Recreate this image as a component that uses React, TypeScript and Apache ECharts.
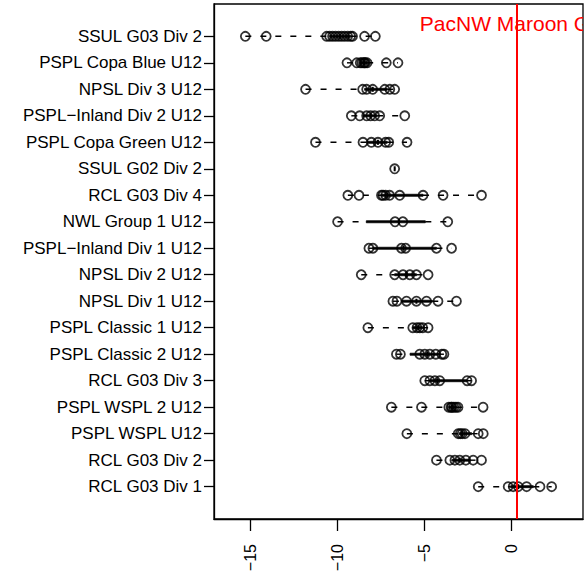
import React, { useEffect, useRef } from "react";
import * as echarts from "echarts";

// Categories, top to bottom
const categories = [
  "SSUL G03 Div 2",
  "PSPL Copa Blue U12",
  "NPSL Div 3 U12",
  "PSPL−Inland Div 2 U12",
  "PSPL Copa Green U12",
  "SSUL G02 Div 2",
  "RCL G03 Div 4",
  "NWL Group 1 U12",
  "PSPL−Inland Div 1 U12",
  "NPSL Div 2 U12",
  "NPSL Div 1 U12",
  "PSPL Classic 1 U12",
  "PSPL Classic 2 U12",
  "RCL G03 Div 3",
  "PSPL WSPL 2 U12",
  "PSPL WSPL U12",
  "RCL G03 Div 2",
  "RCL G03 Div 1",
];

const ssulG03Div2 = [-15.3, -14.1, -10.63, -10.46, -10.29, -10.12, -9.94, -9.77, -9.6, -9.42, -9.25, -9.14, -8.45, -7.83];
const psplCopaBlue = [-9.46, -8.9, -8.7, -8.6, -8.5, -8.45, -8.4, -8.3, -7.2, -6.53];
const npslDiv3 = [-11.84, -8.56, -8.33, -7.98, -7.29, -7.0, -6.72];
const inlandDiv2 = [-9.21, -8.73, -8.33, -8.1, -7.87, -7.58, -6.14];
const psplCopaGreen = [-11.27, -8.54, -8.06, -7.68, -7.24, -7.06, -6.01];
const ssulG02Div2 = [-6.72];
const rclG03Div4 = [-9.41, -8.77, -7.48, -7.39, -7.24, -7.01, -6.43, -5.09, -3.94, -1.73];
const nwlGroup1 = [-10.0, -6.7, -6.25, -3.67];
const inlandDiv1 = [-8.2, -7.97, -6.33, -6.09, -4.32, -3.45];
const npslDiv2 = [-8.64, -6.72, -6.24, -5.85, -5.47, -4.8];
const npslDiv1 = [-6.82, -6.59, -6.04, -5.47, -4.89, -4.23, -3.17];
const psplClassic1 = [-8.26, -5.68, -5.44, -5.28, -5.11, -4.8];
const psplClassic2 = [-6.62, -6.39, -5.28, -4.99, -4.7, -4.36, -4.01, -3.89];
const rclG03Div3 = [-4.99, -4.7, -4.41, -4.13, -2.56, -2.3];
const psplWspl2 = [-6.91, -5.18, -3.61, -3.48, -3.43, -3.32, -3.2, -3.08, -1.64];
const psplWspl = [-6.02, -3.07, -2.95, -2.84, -2.68, -1.92, -1.63];
const rclG03Div2 = [-4.32, -3.55, -3.26, -2.98, -2.63, -2.21, -1.73];
const rclG03Div1 = [-1.92, -0.2, 0.09, 0.38, 0.86, 1.63, 2.3];

const rows = [
  ssulG03Div2, psplCopaBlue, npslDiv3, inlandDiv2, psplCopaGreen, ssulG02Div2,
  rclG03Div4, nwlGroup1, inlandDiv1, npslDiv2, npslDiv1, psplClassic1,
  psplClassic2, rclG03Div3, psplWspl2, psplWspl, rclG03Div2, rclG03Div1,
];

const xTicks = [-15, -10, -5, 0];
const teamName = "PacNW Maroon G03";
const teamValue = 0.29;
const teamLabelRow = 18.5;

function fivenum(arr: number[]): number[] {
  const x = [...arr].sort((a, b) => a - b);
  const n = x.length;
  const n4 = Math.floor((n + 3) / 2) / 2;
  const d = [1, n4, (n + 1) / 2, n + 1 - n4, n];
  return d.map((v) => 0.5 * (x[Math.floor(v) - 1] + x[Math.ceil(v) - 1]));
}

const N = categories.length;
const rowPos = (i: number) => N - i;

export default function App() {
  const ref = useRef<HTMLDivElement>(null);
  useEffect(() => {
    if (!ref.current) return;
    const chart = echarts.init(ref.current, undefined, { renderer: "svg" });
    const font = "Liberation Sans, Arial, Helvetica, sans-serif";
    const scatterData = rows.flatMap((arr, i) => arr.map((v) => [v, rowPos(i)]));
    const boxData = rows.map((arr, i) => [rowPos(i), ...fivenum(arr)]);

    chart.setOption({
      animation: false,
      backgroundColor: "#fff",
      grid: {
        left: 214,
        top: 4,
        width: 369,
        height: 515,
        show: true,
        borderColor: "#000",
        borderWidth: 1.3,
        backgroundColor: "transparent",
        outerBoundsMode: "none",
      },
      xAxis: {
        type: "value",
        min: -17.1,
        max: 4.1,
        splitLine: { show: false },
        axisLine: { show: true, onZero: false, lineStyle: { color: "#000", width: 1.3 } },
        axisTick: { show: true, length: 12, customValues: xTicks, lineStyle: { color: "#000", width: 1.3 } },
        axisLabel: {
          customValues: xTicks,
          rotate: 90,
          margin: 25,
          fontSize: 16,
          fontFamily: font,
          color: "#000",
          formatter: (v: number) => String(v).replace("-", "−"),
        },
      },
      yAxis: {
        type: "value",
        min: -0.22,
        max: 19.22,
        splitLine: { show: false },
        axisLine: { show: true, onZero: false, lineStyle: { color: "#000", width: 1.3 } },
        axisTick: {
          show: true,
          length: 10,
          customValues: categories.map((_, i) => rowPos(i)),
          lineStyle: { color: "#000", width: 1.3 },
        },
        axisLabel: {
          customValues: categories.map((_, i) => rowPos(i)),
          margin: 12,
          fontSize: 17,
          fontFamily: font,
          color: "#000",
          formatter: (v: number) => categories[N - Math.round(v)] ?? "",
        },
      },
      series: [
        {
          type: "custom",
          clip: true,
          data: boxData,
          encode: { x: [1, 2, 3, 4, 5], y: 0 },
          renderItem: (params: any, api: any) => {
            const y = api.value(0);
            const [mn, q1, md, q3, mx] = [1, 2, 3, 4, 5].map((k) => api.value(k));
            const pMin = api.coord([mn, y]);
            const pQ1 = api.coord([q1, y]);
            const pMd = api.coord([md, y]);
            const pQ3 = api.coord([q3, y]);
            const pMax = api.coord([mx, y]);
            const dash = { stroke: "#000", lineWidth: 1.4, lineDash: [6, 9], fill: "none" };
            const children: any[] = [];
            if (pQ1[0] - pMin[0] > 0.5)
              children.push({ type: "line", shape: { x1: pMin[0], y1: pMin[1], x2: pQ1[0], y2: pQ1[1] }, style: dash });
            if (pMax[0] - pQ3[0] > 0.5)
              children.push({ type: "line", shape: { x1: pQ3[0], y1: pQ3[1], x2: pMax[0], y2: pMax[1] }, style: dash });
            children.push({
              type: "rect",
              shape: { x: pQ1[0], y: pQ1[1] - 1, width: Math.max(pQ3[0] - pQ1[0], 0), height: 2 },
              style: { fill: "#000", stroke: "#000", lineWidth: 0.8 },
            });
            children.push({
              type: "line",
              shape: { x1: pMd[0], y1: pMd[1] - 2.5, x2: pMd[0], y2: pMd[1] + 2.5 },
              style: { stroke: "#000", lineWidth: 2 },
            });
            return { type: "group", children };
          },
          z: 2,
        },
        {
          type: "scatter",
          data: scatterData,
          symbol: "circle",
          symbolSize: 9,
          itemStyle: { color: "rgba(0,0,0,0)", borderColor: "#000", borderWidth: 1.8 },
          z: 3,
          markLine: {
            silent: true,
            symbol: ["none", "none"],
            label: { show: false },
            lineStyle: { color: "#ff0000", width: 2, type: "solid" },
            data: [{ xAxis: teamValue }],
          },
        },
        {
          type: "custom",
          clip: true,
          data: [[teamValue, teamLabelRow]],
          encode: { x: 0, y: 1 },
          renderItem: (params: any, api: any) => {
            const p = api.coord([api.value(0), api.value(1)]);
            return {
              type: "text",
              x: p[0],
              y: p[1],
              style: {
                text: teamName,
                fill: "#ff0000",
                fontSize: 21,
                fontFamily: font,
                align: "center",
                verticalAlign: "middle",
              },
            };
          },
          z: 4,
        },
      ],
    });
    return () => chart.dispose();
  }, []);
  return (
    <div
      ref={ref}
      style={{ position: "absolute", left: 0, top: 0, width: 588, height: 575, background: "#fff" }}
    />
  );
}
